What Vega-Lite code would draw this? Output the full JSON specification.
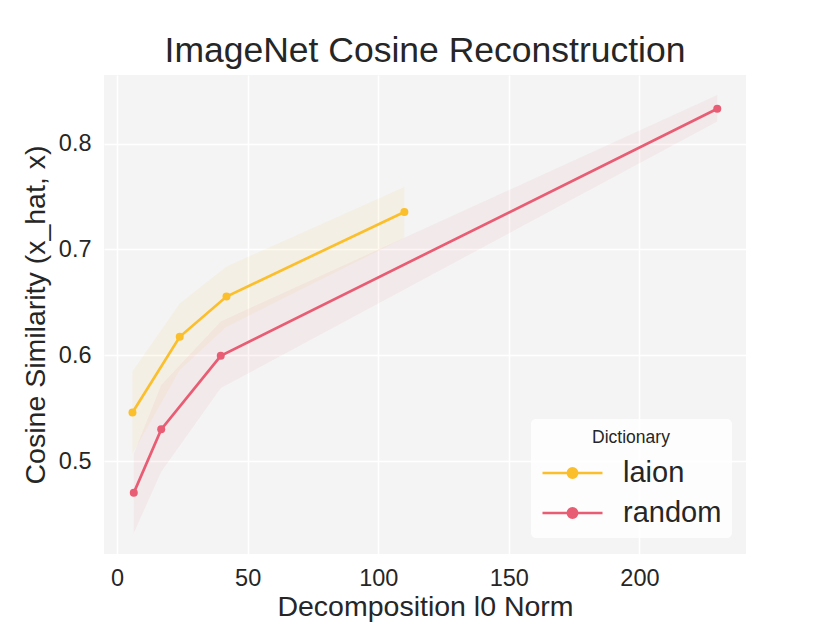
{
  "$schema": "https://vega.github.io/schema/vega-lite/v6.json",
  "autosize": "none",
  "width": 642,
  "height": 479,
  "padding": {"left": 104, "top": 75, "right": 84, "bottom": 69},
  "background": "white",
  "title": {"text": "ImageNet Cosine Reconstruction", "fontSize": 35.5, "font": "Liberation Sans", "fontWeight": "normal", "color": "#262626", "anchor": "middle", "frame": "group", "offset": 6},
  "config": {
    "font": "Liberation Sans",
    "view": {"fill": "#F4F4F4", "stroke": null},
    "axis": {"domain": false, "ticks": false, "grid": true, "gridColor": "white", "gridWidth": 1.5, "labelFontSize": 23.5, "labelColor": "#262626", "titleFontSize": 28.5, "titleFontWeight": "normal", "titleColor": "#262626", "labelFont": "Liberation Sans", "titleFont": "Liberation Sans"}
  },
  "resolve": {"legend": {"color": "independent"}},
  "data": {"values": [
    {"dict": "laion", "l0": 5.9, "cos": 0.546, "lo": 0.507, "hi": 0.585},
    {"dict": "laion", "l0": 24.0, "cos": 0.6175, "lo": 0.586, "hi": 0.649},
    {"dict": "laion", "l0": 41.9, "cos": 0.6555, "lo": 0.627, "hi": 0.684},
    {"dict": "laion", "l0": 110.0, "cos": 0.7355, "lo": 0.711, "hi": 0.759},
    {"dict": "random", "l0": 6.4, "cos": 0.470, "lo": 0.432, "hi": 0.507},
    {"dict": "random", "l0": 16.9, "cos": 0.530, "lo": 0.490, "hi": 0.572},
    {"dict": "random", "l0": 39.7, "cos": 0.5995, "lo": 0.569, "hi": 0.632},
    {"dict": "random", "l0": 229.8, "cos": 0.833, "lo": 0.821, "hi": 0.846}
  ]},
  "layer": [
    {
      "mark": {"type": "area", "opacity": 0.07},
      "encoding": {
        "x": {"field": "l0", "type": "quantitative", "scale": {"domain": [-5, 240.8], "nice": false, "zero": false}, "axis": {"values": [0, 50, 100, 150, 200], "title": "Decomposition l0 Norm", "labelPadding": 12, "titlePadding": 3}},
        "y": {"field": "lo", "type": "quantitative", "scale": {"domain": [0.4122, 0.8649], "nice": false, "zero": false}, "axis": {"values": [0.5, 0.6, 0.7, 0.8], "format": ".1f", "title": "Cosine Similarity (x_hat, x)", "labelPadding": 13, "titlePadding": 8}},
        "y2": {"field": "hi"},
        "color": {"field": "dict", "type": "nominal", "scale": {"domain": ["laion", "random"], "range": ["#FBBF2C", "#E85D73"]}, "legend": null}
      }
    },
    {
      "mark": {"type": "line", "strokeWidth": 2.7},
      "encoding": {
        "x": {"field": "l0", "type": "quantitative", "scale": {"domain": [-5, 240.8], "nice": false, "zero": false}, "axis": {"values": [0, 50, 100, 150, 200], "title": "Decomposition l0 Norm", "labelPadding": 12, "titlePadding": 3}},
        "y": {"field": "cos", "type": "quantitative", "scale": {"domain": [0.4122, 0.8649], "nice": false, "zero": false}, "axis": {"values": [0.5, 0.6, 0.7, 0.8], "format": ".1f", "title": "Cosine Similarity (x_hat, x)", "labelPadding": 13, "titlePadding": 8}},
        "color": {"field": "dict", "type": "nominal", "scale": {"domain": ["laion", "random"], "range": ["#FBBF2C", "#E85D73"]},
          "legend": {
            "orient": "none", "legendX": 427, "legendY": 344,
            "title": "Dictionary", "titleFontSize": 17.5, "titleFontWeight": "normal", "titleColor": "#262626", "titleAnchor": "middle", "titleFont": "Liberation Sans",
            "labelFontSize": 29, "labelColor": "#262626", "labelFont": "Liberation Sans",
            "symbolType": "M-1.5,0L1.5,0M0.23,0A0.23,0.23,0,1,1,-0.23,0A0.23,0.23,0,1,1,0.23,0Z",
            "symbolSize": 1600, "symbolStrokeWidth": 2.7, "symbolOffset": 10, "labelOffset": 29,
            "padding": 10, "fillColor": "rgba(255,255,255,0.8)", "cornerRadius": 5, "rowPadding": 3,
            "encode": {"symbols": {"update": {"fill": {"scale": "color", "field": "value"}, "stroke": {"scale": "color", "field": "value"}, "opacity": {"value": 1}}}}
          }
        }
      }
    },
    {
      "mark": {"type": "point", "filled": true, "size": 64, "opacity": 1},
      "encoding": {
        "x": {"field": "l0", "type": "quantitative", "scale": {"domain": [-5, 240.8], "nice": false, "zero": false}, "axis": {"values": [0, 50, 100, 150, 200], "title": "Decomposition l0 Norm", "labelPadding": 12, "titlePadding": 3}},
        "y": {"field": "cos", "type": "quantitative", "scale": {"domain": [0.4122, 0.8649], "nice": false, "zero": false}, "axis": {"values": [0.5, 0.6, 0.7, 0.8], "format": ".1f", "title": "Cosine Similarity (x_hat, x)", "labelPadding": 13, "titlePadding": 8}},
        "color": {"field": "dict", "type": "nominal", "scale": {"domain": ["laion", "random"], "range": ["#FBBF2C", "#E85D73"]}, "legend": null}
      }
    }
  ]
}
